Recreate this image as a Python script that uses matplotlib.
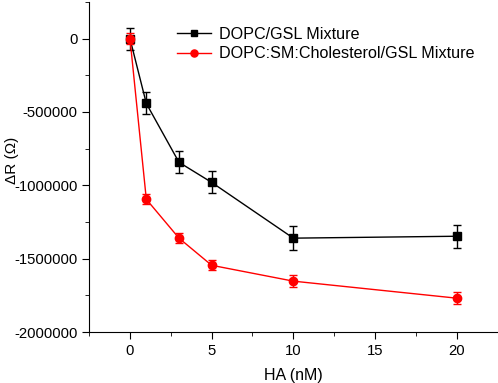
import numpy as np
import matplotlib.pyplot as plt

plt.rcParams['font.family'] = ['Liberation Sans', 'DejaVu Sans']

ha = [0, 1, 3, 5, 10, 20]
dopc = [0, -442000, -843000, -980000, -1360000, -1347000]
dopc_err = [75000, 75000, 75000, 75000, 80000, 80000]
raft = [0, -1095000, -1360000, -1545000, -1653000, -1769000]
raft_err = [40000, 35000, 35000, 35000, 40000, 40000]

fig = plt.figure(figsize=(4.98, 3.83), dpi=100)
ax = fig.add_axes([0.179, 0.133, 0.82, 0.862])

ax.errorbar(ha, dopc, yerr=dopc_err, fmt='none', ecolor='black',
            capsize=3, elinewidth=1)
ax.plot(ha, dopc, color='black', marker='s', ms=5.2, lw=1, label='DOPC/GSL Mixture')
ax.errorbar(ha, raft, yerr=raft_err, fmt='none', ecolor='red',
            capsize=3, elinewidth=1)
ax.plot(ha, raft, color='red', marker='o', ms=6, lw=1,
        label='DOPC:SM:Cholesterol/GSL Mixture')

ax.set_xlim(-2.5, 22.5)
ax.set_ylim(-2000000, 250000)
ax.set_xticks([0, 5, 10, 15, 20])
ax.set_xticks(np.arange(-2.5, 22.6, 2.5), minor=True)
ax.set_yticks([0, -500000, -1000000, -1500000, -2000000])
ax.set_yticks(np.arange(-1750000, 250001, 500000), minor=True)
ax.set_yticklabels(['0', '-500000', '-1000000', '-1500000', '-2000000'])
ax.spines['top'].set_visible(False)
ax.spines['right'].set_visible(False)
ax.tick_params(which='both', direction='out', labelsize=10.7)
ax.tick_params(which='major', length=5)
ax.tick_params(which='minor', length=3)

ax.set_xlabel('HA (nM)', fontsize=11.5, labelpad=7)
ax.set_ylabel('ΔR (Ω)', fontsize=11)
ax.yaxis.set_label_coords(-0.172, 0.52)

ax.legend(loc='upper left', bbox_to_anchor=(0.2, 0.945), frameon=False,
          fontsize=11.6, handlelength=2.1, handletextpad=0.5,
          labelspacing=0.3, markerscale=0.85, borderaxespad=0)

fig.savefig('out.png', dpi=100)
